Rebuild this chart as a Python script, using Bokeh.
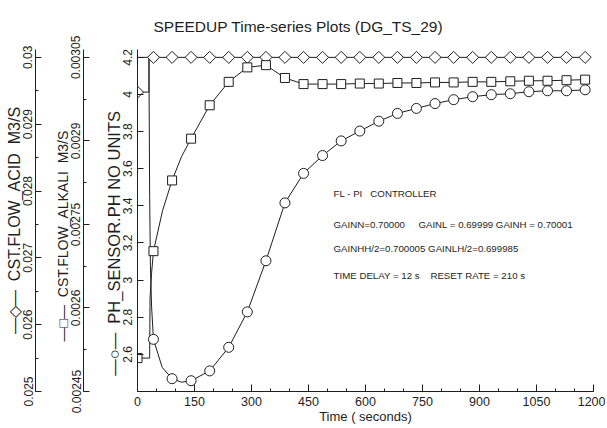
from bokeh.plotting import figure
from bokeh.models import Range1d, LinearAxis, FixedTicker, Label
from bokeh.embed import file_html
from bokeh.resources import INLINE

# ---------------- data ----------------
T_MARK = [42, 91, 141, 190, 240, 289, 338, 388, 437, 487, 536, 585,
          635, 684, 734, 783, 832, 882, 931, 981, 1030, 1079, 1129, 1178]

PH_MARK = [2.681, 2.469, 2.458, 2.511, 2.638, 2.829, 3.104, 3.416, 3.575, 3.671,
           3.750, 3.803, 3.856, 3.898, 3.925, 3.951, 3.972, 3.988, 3.999, 4.004,
           4.015, 4.020, 4.020, 4.025]
PH_EXTRA_T = [0, 30, 32, 34, 37, 65, 116]
PH_EXTRA_V = [4.2, 4.2, 3.45, 3.08, 2.86, 2.53, 2.45]

ALK_MARK = [0.002702, 0.002829, 0.002904, 0.002964, 0.003006, 0.003032, 0.003036,
            0.003013, 0.003002, 0.003002, 0.003002, 0.003003, 0.003003, 0.003004,
            0.003004, 0.003005, 0.003005, 0.003006, 0.003006, 0.003007, 0.003008,
            0.003008, 0.003009, 0.003010]
ALK_EXTRA_T = [0, 32, 33, 37, 66, 116]
ALK_EXTRA_V = [0.00251, 0.00251, 0.002618, 0.002662, 0.002775, 0.002872]

ACID_MARK = [0.03] * 24
ACID_EXTRA_T = [0, 30, 30.5]
ACID_EXTRA_V = [0.02948, 0.02948, 0.03]

X_TICKS = [0, 150, 300, 450, 600, 750, 900, 1050, 1200]
PH_TICKS = [2.6, 2.8, 3.0, 3.2, 3.4, 3.6, 3.8, 4.0, 4.2]
PH_LABELS = ["2.6", "2.8", "3", "3.2", "3.4", "3.6", "3.8", "4", "4.2"]
ALK_TICKS = [0.00245, 0.0026, 0.00275, 0.0029, 0.00305]
ALK_LABELS = ["0.00245", "0.0026", "0.00275", "0.0029", "0.00305"]
ACID_TICKS = [0.025, 0.026, 0.027, 0.028, 0.029, 0.03]
ACID_LABELS = ["0.025", "0.026", "0.027", "0.028", "0.029", "0.03"]

TITLE = "SPEEDUP Time-series Plots (DG_TS_29)"
NOTES = ["FL - PI\u00a0\u00a0 CONTROLLER",
         "GAINN=0.70000\u00a0\u00a0\u00a0\u00a0 GAINL = 0.69999 GAINH = 0.70001",
         "GAINHH/2=0.700005 GAINLH/2=0.699985",
         "TIME DELAY = 12 s\u00a0\u00a0\u00a0 RESET RATE = 210 s"]


def merged(t_extra, v_extra, t_mark, v_mark):
    pts = sorted(zip(list(t_extra) + list(t_mark), list(v_extra) + list(v_mark)))
    return [a for a, _ in pts], [b for _, b in pts]


FONT = "Liberation Sans"
INK = "#1e1e1e"
PAD_PX = 8.0
PH_LO, PH_HI = 2.4, 4.2
ALK_LO, ALK_HI = 0.00245, 0.00305
ACID_LO, ACID_HI = 0.025, 0.03
SPAN_PX = 340.0

p = figure(width=605, height=426, output_backend="svg", toolbar_location=None,
           x_range=Range1d(0, 1200),
           y_range=Range1d(PH_LO, PH_HI + PAD_PX * (PH_HI - PH_LO) / SPAN_PX),
           y_axis_location=None, x_axis_location="below",
           min_border_left=137, min_border_right=12, min_border_top=47,
           min_border_bottom=31, title=TITLE)
p.extra_y_ranges = {
    "alk": Range1d(ALK_LO, ALK_HI + PAD_PX * (ALK_HI - ALK_LO) / SPAN_PX),
    "acid": Range1d(ACID_LO, ACID_HI + PAD_PX * (ACID_HI - ACID_LO) / SPAN_PX),
}
p.grid.visible = False
p.outline_line_color = None
p.background_fill_color = "white"
p.border_fill_color = "white"

p.title.align = "left"
p.title.offset = 16
p.title.text_font = FONT
p.title.text_font_size = "15.5px"
p.title.text_font_style = "normal"
p.title.text_color = INK
p.title.standoff = 30

xa = p.xaxis[0]
xa.ticker = FixedTicker(ticks=X_TICKS, minor_ticks=list(range(0, 1201, 50)))
xa.major_tick_in = 7
xa.major_tick_out = 0
xa.minor_tick_in = 3
xa.minor_tick_out = 0
xa.major_label_standoff = 5
xa.major_label_text_font = FONT
xa.major_label_text_font_size = "12.5px"
xa.major_label_text_line_height = 1.0
xa.major_label_text_color = INK
xa.axis_label = "Time ( seconds)"
xa.axis_label_standoff = 0
xa.axis_label_text_font = FONT
xa.axis_label_text_font_size = "13px"
xa.axis_label_text_line_height = 1.0
xa.axis_label_text_font_style = "normal"
xa.axis_label_text_color = INK
xa.axis_line_color = INK
xa.major_tick_line_color = INK
xa.minor_tick_line_color = INK


def yaxis(rng, ticks, labels, minor, label, label_px, label_standoff, tick_standoff):
    ax = LinearAxis(ticker=FixedTicker(ticks=ticks, minor_ticks=minor))
    if rng:
        ax.y_range_name = rng
    ax.major_label_overrides = dict(zip(ticks, labels))
    ax.major_label_orientation = "vertical"
    ax.major_tick_in = 6
    ax.major_tick_out = 0
    ax.minor_tick_in = 3
    ax.minor_tick_out = 0
    ax.major_label_standoff = tick_standoff
    ax.major_label_text_font = FONT
    ax.major_label_text_font_size = "12px"
    ax.major_label_text_line_height = 1.0
    ax.major_label_text_color = INK
    ax.axis_label = label
    ax.axis_label_standoff = label_standoff
    ax.axis_label_text_font = FONT
    ax.axis_label_text_font_size = label_px
    ax.axis_label_text_line_height = 1.0
    ax.axis_label_text_font_style = "normal"
    ax.axis_label_text_color = INK
    ax.axis_line_color = INK
    ax.major_tick_line_color = INK
    ax.minor_tick_line_color = INK
    return ax


NB = "\u00a0"
acid_minor = [ACID_LO + i * 0.0005 for i in range(11)]
alk_minor = [ALK_LO + i * 0.000075 for i in range(9)]
ph_ax = yaxis(None, PH_TICKS, PH_LABELS, [],
              NB + "\n\u2014\u25cb\u2014" + NB * 2 + "PH_SENSOR.PH NO UNITS" + NB * 10,
              "16.5px", -2, 5)
alk_ax = yaxis("alk", ALK_TICKS, ALK_LABELS, alk_minor,
               NB + "\n\u2014\u25a1\u2014" + NB * 2 + "CST.FLOW_ALKALI" + NB + " M3/S" + NB * 8,
               "14px", -2, 3)
acid_ax = yaxis("acid", ACID_TICKS, ACID_LABELS, acid_minor,
                "\u2014\u25c7\u2014" + NB * 2 + "CST.FLOW_ACID" + NB + " M3/S",
                "16px", -2, 3)
p.add_layout(ph_ax, "left")
p.add_layout(alk_ax, "left")
p.add_layout(acid_ax, "left")

# ---------------- series ----------------
t_ph, v_ph = merged(PH_EXTRA_T, PH_EXTRA_V, T_MARK, PH_MARK)
t_alk, v_alk = merged(ALK_EXTRA_T, ALK_EXTRA_V, T_MARK, ALK_MARK)
t_acid, v_acid = merged(ACID_EXTRA_T, ACID_EXTRA_V, T_MARK, ACID_MARK)

p.line(t_acid, v_acid, y_range_name="acid", line_color=INK, line_width=1)
p.line(t_alk, v_alk, y_range_name="alk", line_color=INK, line_width=1)
p.line(t_ph, v_ph, line_color=INK, line_width=1)

p.scatter([0] + T_MARK, [ACID_EXTRA_V[0]] + ACID_MARK, y_range_name="acid",
          marker="square", angle=0.785398, size=8.5,
          fill_color="white", line_color=INK, line_width=1)
p.scatter([0] + T_MARK, [ALK_EXTRA_V[0]] + ALK_MARK, y_range_name="alk",
          marker="square", size=9, fill_color="white", line_color=INK, line_width=1)
p.scatter(T_MARK, PH_MARK, marker="circle", size=10,
          fill_color="white", line_color=INK, line_width=1)

# ---------------- notes ----------------
NOTE_X = 516
NOTE_Y = [3.464, 3.300, 3.168, 3.025]
for txt, yy in zip(NOTES, NOTE_Y):
    p.add_layout(Label(x=NOTE_X, y=yy, text=txt, text_baseline="middle",
                       text_font=FONT, text_font_size="9.7px",
                       text_color=INK))

open("out.html", "w").write(file_html(p, INLINE))
